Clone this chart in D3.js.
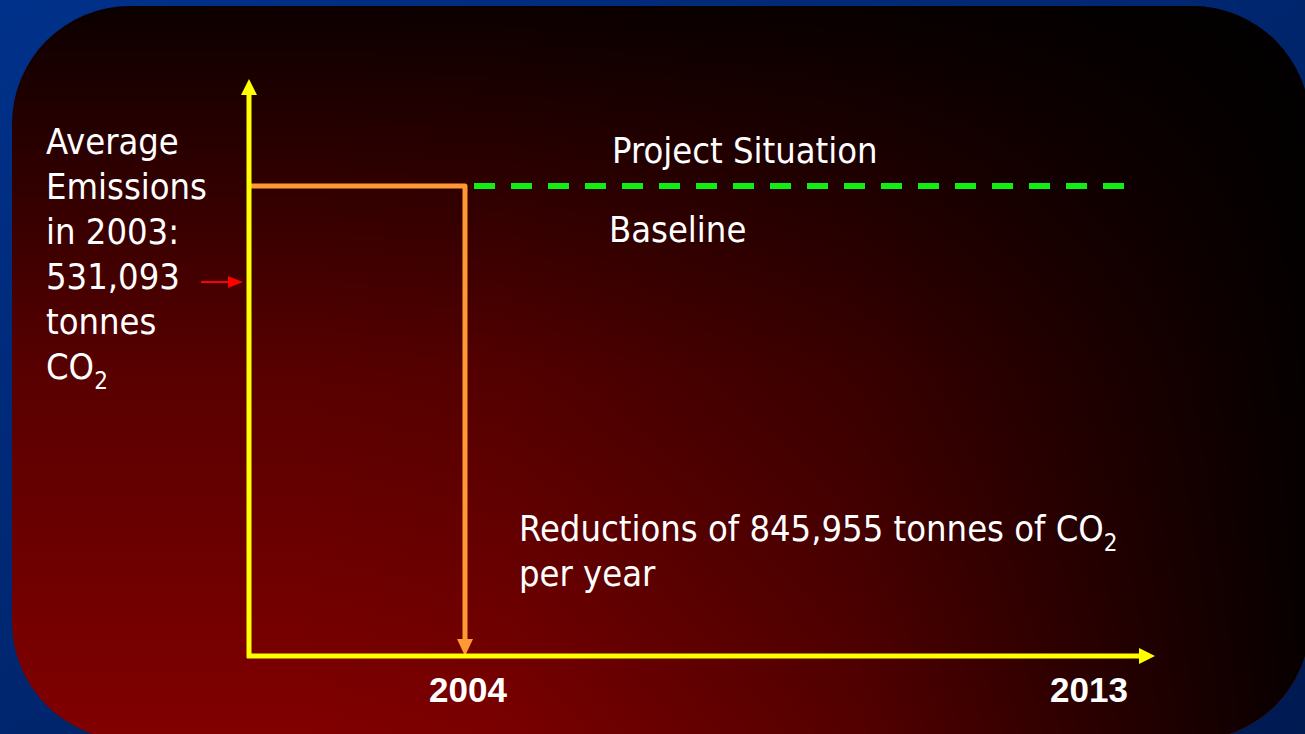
<!DOCTYPE html>
<html>
<head>
<meta charset="utf-8">
<script src="https://cdn.jsdelivr.net/npm/d3@7"></script>
<style>
  html, body { margin: 0; padding: 0; background: #002f86; }
  svg { display: block; }
  .lbl { fill: #ffffff; font-family: "DejaVu Sans Condensed", "DejaVu Sans", sans-serif; font-stretch: condensed; font-size: 36px; }
  .yr { fill: #ffffff; font-family: "Liberation Sans", Arial, sans-serif; font-weight: bold; font-size: 35px; }
</style>
</head>
<body>
<svg id="chart" width="1305" height="734"></svg>
<script>
// data
var yearDomain = [2003, 2004, 2014];
var tickYears = [2004, 2013];
var avgEmissions = 531093;
var yMax = 652000;
var projectSeries = [
  { year: 2003, value: 531093 },
  { year: 2004, value: 531093 },
  { year: 2004, value: 0 }
];
var baselineSeries = [
  { year: 2004, value: 531093 },
  { year: 2013, value: 531093 }
];
var leftLines = ["Average", "Emissions", "in 2003:", "531,093", "tonnes", "CO"];
var reductionLines = ["Reductions of 845,955 tonnes of CO", "per year"];

var svg = d3.select("#chart");
var W = 1305, H = 734;

var x = d3.scaleLinear().domain(yearDomain).range([249, 465, 1155]);
var y = d3.scaleLinear().domain([0, yMax]).range([656, 79]);

var defs = svg.append("defs");

var bg = defs.append("linearGradient").attr("id", "bgBlue")
  .attr("x1", 0).attr("y1", 0).attr("x2", 1).attr("y2", 1);
bg.append("stop").attr("offset", 0).attr("stop-color", "#00318a");
bg.append("stop").attr("offset", 1).attr("stop-color", "#001a52");

var vg = defs.append("linearGradient").attr("id", "vred")
  .attr("gradientUnits", "userSpaceOnUse")
  .attr("x1", 0).attr("y1", 6).attr("x2", 0).attr("y2", 740);
vg.append("stop").attr("offset", 0).attr("stop-color", "#0c0000");
vg.append("stop").attr("offset", 0.5).attr("stop-color", "#580000");
vg.append("stop").attr("offset", 1).attr("stop-color", "#820000");

var hg = defs.append("linearGradient").attr("id", "hdark")
  .attr("gradientUnits", "userSpaceOnUse")
  .attr("x1", 12).attr("y1", 0).attr("x2", 1310).attr("y2", 0);
hg.append("stop").attr("offset", 0).attr("stop-color", "#000").attr("stop-opacity", 0);
hg.append("stop").attr("offset", 0.22).attr("stop-color", "#000").attr("stop-opacity", 0);
hg.append("stop").attr("offset", 0.38).attr("stop-color", "#000").attr("stop-opacity", 0.06);
hg.append("stop").attr("offset", 0.65).attr("stop-color", "#000").attr("stop-opacity", 0.35);
hg.append("stop").attr("offset", 0.84).attr("stop-color", "#000").attr("stop-opacity", 0.68);
hg.append("stop").attr("offset", 1).attr("stop-color", "#000").attr("stop-opacity", 0.95);

svg.append("rect").attr("width", W).attr("height", H).attr("fill", "url(#bgBlue)");

// rounded panel
svg.append("rect").attr("x", 12).attr("y", 6).attr("width", 1298).attr("height", 734)
  .attr("rx", 118).attr("ry", 118).attr("fill", "url(#vred)");
svg.append("rect").attr("x", 12).attr("y", 6).attr("width", 1298).attr("height", 734)
  .attr("rx", 118).attr("ry", 118).attr("fill", "url(#hdark)");

var yellow = "#ffff00", orange = "#ff9933", green = "#11ee11";

// project line (orange)
var line = d3.line().x(function(d){ return x(d.year); }).y(function(d){ return y(d.value); });
var proj = projectSeries.slice();
svg.append("path")
  .attr("d", line([proj[0], proj[1], { year: 2004, value: y.invert(y(0) - 14) }]))
  .attr("fill", "none").attr("stroke", orange).attr("stroke-width", 5)
  .attr("stroke-linejoin", "round");
var ax = x(2004), ay = y(0);
svg.append("path")
  .attr("d", "M" + (ax - 8) + "," + (ay - 17) + "L" + (ax + 8) + "," + (ay - 17) + "L" + ax + "," + ay + "Z")
  .attr("fill", orange);

// baseline dashed (green)
svg.append("line")
  .attr("x1", x(baselineSeries[0].year) + 9).attr("x2", x(baselineSeries[1].year) + 42)
  .attr("y1", y(baselineSeries[0].value)).attr("y2", y(baselineSeries[1].value))
  .attr("stroke", green).attr("stroke-width", 6).attr("stroke-dasharray", "21,16");

// axes
var x0 = x(2003), y0 = y(0), xEnd = x(2014), yTop = y(yMax);
svg.append("line").attr("x1", x0).attr("x2", x0).attr("y1", y0 + 2).attr("y2", yTop + 14)
  .attr("stroke", yellow).attr("stroke-width", 5);
svg.append("path")
  .attr("d", "M" + (x0 - 8) + "," + (yTop + 16) + "L" + (x0 + 8) + "," + (yTop + 16) + "L" + x0 + "," + yTop + "Z")
  .attr("fill", yellow);
svg.append("line").attr("x1", x0 - 2).attr("x2", xEnd - 14).attr("y1", y0).attr("y2", y0)
  .attr("stroke", yellow).attr("stroke-width", 5);
svg.append("path")
  .attr("d", "M" + (xEnd - 16) + "," + (y0 - 8) + "L" + (xEnd - 16) + "," + (y0 + 8) + "L" + xEnd + "," + y0 + "Z")
  .attr("fill", yellow);

// tick labels
svg.selectAll(".yr").data(tickYears).enter().append("text")
  .attr("class", "yr").attr("text-anchor", "middle")
  .attr("x", function(d){ return x(d) + 3; }).attr("y", 702)
  .text(function(d){ return d; });

// left label
var lt = svg.append("text").attr("class", "lbl");
leftLines.forEach(function(s, i){
  lt.append("tspan").attr("x", 46).attr("y", 154 + i * 45).text(s);
});
lt.append("tspan").attr("dy", 10).style("font-size", "24px").text("2");

// red pointer arrow
svg.append("line").attr("x1", 201).attr("x2", 230).attr("y1", 282).attr("y2", 282)
  .attr("stroke", "#ff0000").attr("stroke-width", 2);
svg.append("path").attr("d", "M228,276L243,282L228,288Z").attr("fill", "#ff0000");

// series labels
svg.append("text").attr("class", "lbl").attr("x", 612).attr("y", 163).text("Project Situation");
svg.append("text").attr("class", "lbl").attr("x", 609).attr("y", 242).text("Baseline");

var rt = svg.append("text").attr("class", "lbl");
rt.append("tspan").attr("x", 519).attr("y", 541).text(reductionLines[0]);
rt.append("tspan").attr("dy", 10).style("font-size", "24px").text("2");
rt.append("tspan").attr("x", 519).attr("y", 586).text(reductionLines[1]);
</script>
</body>
</html>
